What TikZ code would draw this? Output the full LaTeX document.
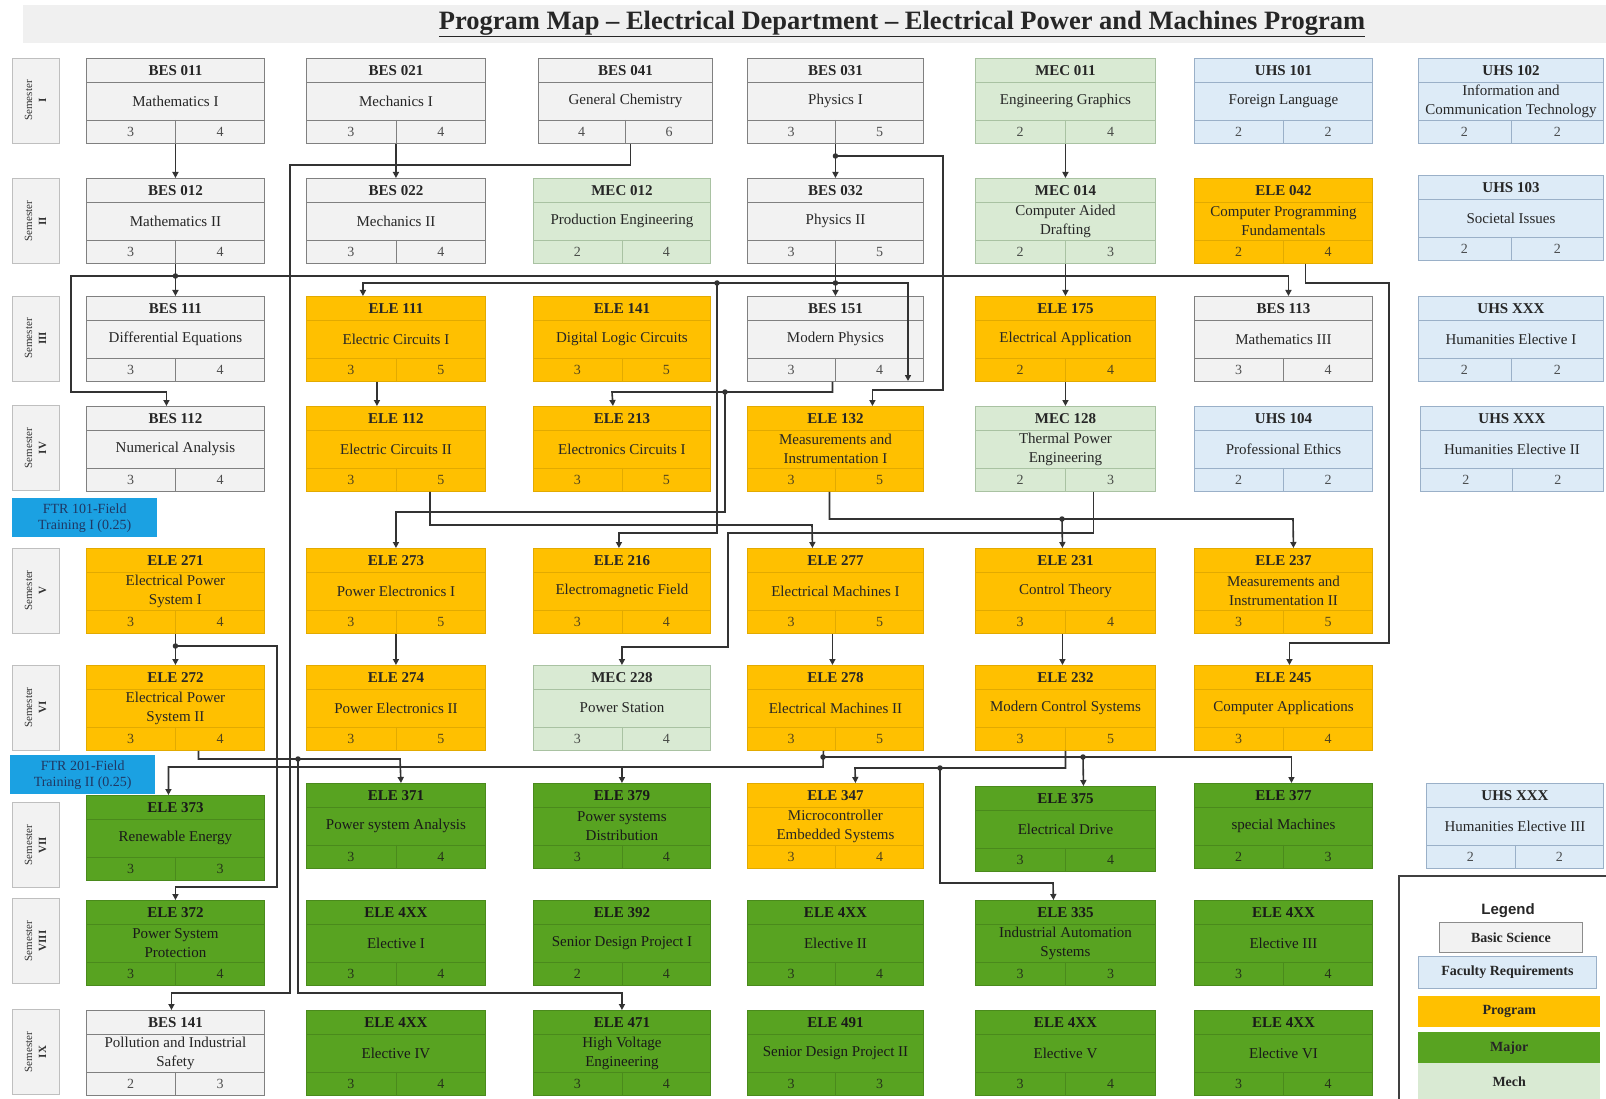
\documentclass[tikz,border=0pt]{standalone}
\usepackage{fontspec}
\setmainfont{Liberation Serif}
\newfontfamily\legendfont{Liberation Sans}
\usetikzlibrary{calc,arrows.meta}

\definecolor{bsfill}{HTML}{F2F2F2}
\definecolor{bsdraw}{HTML}{808080}
\definecolor{frfill}{HTML}{DDEBF7}
\definecolor{frdraw}{HTML}{9AB0C8}
\definecolor{pgfill}{HTML}{FFC000}
\definecolor{pgdraw}{HTML}{E2AA00}
\definecolor{mjfill}{HTML}{58A321}
\definecolor{mjdraw}{HTML}{4A8A1C}
\definecolor{mcfill}{HTML}{D9EAD3}
\definecolor{mcdraw}{HTML}{A9C2A2}
\definecolor{ftrfill}{HTML}{1BA1E2}
\definecolor{ftrink}{HTML}{1F3864}
\definecolor{wire}{HTML}{333333}
\definecolor{band}{HTML}{F0F0F0}

\tikzset{
  box/.style={rectangle, minimum height=85pt, inner sep=0pt, anchor=north west, line width=0.9pt},
  basic/.style={box, fill=bsfill, draw=bsdraw},
  fac/.style={box, fill=frfill, draw=frdraw},
  prog/.style={box, fill=pgfill, draw=pgdraw},
  major/.style={box, fill=mjfill, draw=mjdraw},
  mech/.style={box, fill=mcfill, draw=mcdraw},
  basic grid/.style={draw=bsdraw, line width=0.7pt},
  fac grid/.style={draw=frdraw, line width=0.7pt},
  prog grid/.style={draw=pgdraw, line width=0.7pt},
  major grid/.style={draw=mjdraw, line width=0.7pt},
  mech grid/.style={draw=mcdraw, line width=0.7pt},
  basic ink/.style={text=black!85},
  fac ink/.style={text=black!85},
  prog ink/.style={text=black!85},
  major ink/.style={text=black!90},
  mech ink/.style={text=black!85},
  codetext/.style={font=\fontsize{15}{17}\selectfont\bfseries, inner sep=0pt},
  titletext/.style={font=\fontsize{15}{19}\selectfont, align=center, inner sep=0pt},
  credtext/.style={font=\fontsize{14}{16}\selectfont, inner sep=0pt, opacity=0.8},
  semlabel/.style={rectangle, draw=black!25, fill=bsfill, line width=0.6pt, rotate=90,
    minimum width=85pt, minimum height=47pt, align=center, inner sep=0pt,
    font=\fontsize{11}{14}\selectfont, text=black!80},
  ftrbox/.style={rectangle, fill=ftrfill, anchor=north west, minimum width=145pt, minimum height=39pt,
    inner sep=0pt, align=center, text=ftrink, font=\fontsize{14}{16}\selectfont},
  wireline/.style={draw=wire, line width=1.6pt},
  arr/.style={wireline, -{Triangle[length=6pt,width=6pt]}},
  jdot/.style={circle, fill=wire, inner sep=0pt, minimum size=5.5pt},
  legitem/.style={rectangle, anchor=north west, inner sep=0pt, minimum height=31pt,
    font=\fontsize{14}{16}\selectfont\bfseries, text=black!85},
}

% course box: name, x-left, y-top, width, kind, code, title, credit 1, credit 2
\newcommand\course[9]{%
  \node[#5, minimum width=#4pt] (#1) at (#2,#3) {};
  \draw[#5 grid] ($(#1.north west)+(0,24)$) -- ($(#1.north east)+(0,24)$);
  \draw[#5 grid] ($(#1.south west)+(0,-24)$) -- ($(#1.south east)+(0,-24)$);
  \draw[#5 grid] ($(#1.south)+(0,-24)$) -- (#1.south);
  \node[codetext, #5 ink] (#1-code) at ($(#1.north)+(0,12.5)$) {#6};
  \node[titletext, #5 ink] (#1-title) at ($(#1.north)+(0,43)$) {#7};
  \node[credtext, #5 ink] (#1-cra) at ($(#1.south west)!0.25!(#1.south east)+(0,-12)$) {#8};
  \node[credtext, #5 ink] (#1-crb) at ($(#1.south west)!0.75!(#1.south east)+(0,-12)$) {#9};
}

\begin{document}
\begin{tikzpicture}[x=1pt, y=-1pt]
\useasboundingbox (0,0) rectangle (1606,1099);
\fill[white] (0,0) rectangle (1606,1099);

% heading
\fill[band] (23,5) rectangle (1606,43);
\node[font=\fontsize{26.5}{29}\selectfont\bfseries, text=black!85, inner sep=0pt] (heading) at (902,24)
  {\underline{Program Map -- Electrical Department -- Electrical Power and Machines Program}};

% semester labels
\node[semlabel] (s1) at (35.5,100.5) {Semester\\\textbf{I}};
\node[semlabel] (s2) at (35.5,221) {Semester\\\textbf{II}};
\node[semlabel] (s3) at (35.5,338.5) {Semester\\\textbf{III}};
\node[semlabel] (s4) at (35.5,448) {Semester\\\textbf{IV}};
\node[semlabel] (s5) at (35.5,590.5) {Semester\\\textbf{V}};
\node[semlabel] (s6) at (35.5,707.5) {Semester\\\textbf{VI}};
\node[semlabel] (s7) at (35.5,845) {Semester\\\textbf{VII}};
\node[semlabel] (s8) at (35.5,941) {Semester\\\textbf{VIII}};
\node[semlabel] (s9) at (35.5,1052) {Semester\\\textbf{IX}};

% field training
\node[ftrbox] (ftr101) at (12,498) {FTR 101-Field\\Training I (0.25)};
\node[ftrbox] (ftr201) at (10,755) {FTR 201-Field\\Training II (0.25)};

% semester I
\course{bes011}{86}{58}{178}{basic}{BES 011}{Mathematics I}{3}{4}
\course{bes021}{306}{58}{179}{basic}{BES 021}{Mechanics I}{3}{4}
\course{bes041}{538}{58}{174}{basic}{BES 041}{General Chemistry}{4}{6}
\course{bes031}{747}{58}{176}{basic}{BES 031}{Physics I}{3}{5}
\course{mec011}{975}{58}{180}{mech}{MEC 011}{Engineering Graphics}{2}{4}
\course{uhs101}{1194}{58}{178}{fac}{UHS 101}{Foreign Language}{2}{2}
\course{uhs102}{1418}{58}{185}{fac}{UHS 102}{Information and\\Communication Technology}{2}{2}

% semester II
\course{bes012}{86}{178}{178}{basic}{BES 012}{Mathematics II}{3}{4}
\course{bes022}{306}{178}{179}{basic}{BES 022}{Mechanics II}{3}{4}
\course{mec012}{533}{178}{177}{mech}{MEC 012}{Production Engineering}{2}{4}
\course{bes032}{747}{178}{176}{basic}{BES 032}{Physics II}{3}{5}
\course{mec014}{975}{178}{180}{mech}{MEC 014}{Computer Aided\\Drafting}{2}{3}
\course{ele042}{1194}{178}{178}{prog}{ELE 042}{Computer Programming\\Fundamentals}{2}{4}
\course{uhs103}{1418}{175}{185}{fac}{UHS 103}{Societal Issues}{2}{2}

% semester III
\course{bes111}{86}{296}{178}{basic}{BES 111}{Differential Equations}{3}{4}
\course{ele111}{306}{296}{179}{prog}{ELE 111}{Electric Circuits I}{3}{5}
\course{ele141}{533}{296}{177}{prog}{ELE 141}{Digital Logic Circuits}{3}{5}
\course{bes151}{747}{296}{176}{basic}{BES 151}{Modern Physics}{3}{4}
\course{ele175}{975}{296}{180}{prog}{ELE 175}{Electrical Application}{2}{4}
\course{bes113}{1194}{296}{178}{basic}{BES 113}{Mathematics III}{3}{4}
\course{uhsx1}{1418}{296}{185}{fac}{UHS XXX}{Humanities Elective I}{2}{2}

% semester IV
\course{bes112}{86}{406}{178}{basic}{BES 112}{Numerical Analysis}{3}{4}
\course{ele112}{306}{406}{179}{prog}{ELE 112}{Electric Circuits II}{3}{5}
\course{ele213}{533}{406}{177}{prog}{ELE 213}{Electronics Circuits I}{3}{5}
\course{ele132}{747}{406}{176}{prog}{ELE 132}{Measurements and\\Instrumentation I}{3}{5}
\course{mec128}{975}{406}{180}{mech}{MEC 128}{Thermal Power\\Engineering}{2}{3}
\course{uhs104}{1194}{406}{178}{fac}{UHS 104}{Professional Ethics}{2}{2}
\course{uhsx2}{1420}{406}{183}{fac}{UHS XXX}{Humanities Elective II}{2}{2}

% semester V
\course{ele271}{86}{548}{178}{prog}{ELE 271}{Electrical Power\\System I}{3}{4}
\course{ele273}{306}{548}{179}{prog}{ELE 273}{Power Electronics I}{3}{5}
\course{ele216}{533}{548}{177}{prog}{ELE 216}{Electromagnetic Field}{3}{4}
\course{ele277}{747}{548}{176}{prog}{ELE 277}{Electrical Machines I}{3}{5}
\course{ele231}{975}{548}{180}{prog}{ELE 231}{Control Theory}{3}{4}
\course{ele237}{1194}{548}{178}{prog}{ELE 237}{Measurements and\\Instrumentation II}{3}{5}

% semester VI
\course{ele272}{86}{665}{178}{prog}{ELE 272}{Electrical Power\\System II}{3}{4}
\course{ele274}{306}{665}{179}{prog}{ELE 274}{Power Electronics II}{3}{5}
\course{mec228}{533}{665}{177}{mech}{MEC 228}{Power Station}{3}{4}
\course{ele278}{747}{665}{176}{prog}{ELE 278}{Electrical Machines II}{3}{5}
\course{ele232}{975}{665}{180}{prog}{ELE 232}{Modern Control Systems}{3}{5}
\course{ele245}{1194}{665}{178}{prog}{ELE 245}{Computer Applications}{3}{4}

% semester VII
\course{ele373}{86}{795}{178}{major}{ELE 373}{Renewable Energy}{3}{3}
\course{ele371}{306}{783}{179}{major}{ELE 371}{Power system Analysis}{3}{4}
\course{ele379}{533}{783}{177}{major}{ELE 379}{Power systems\\Distribution}{3}{4}
\course{ele347}{747}{783}{176}{prog}{ELE 347}{Microcontroller\\Embedded Systems}{3}{4}
\course{ele375}{975}{786}{180}{major}{ELE 375}{Electrical Drive}{3}{4}
\course{ele377}{1194}{783}{178}{major}{ELE 377}{special Machines}{2}{3}
\course{uhsx3}{1426}{783}{177}{fac}{UHS XXX}{Humanities Elective III}{2}{2}

% semester VIII
\course{ele372}{86}{900}{178}{major}{ELE 372}{Power System\\Protection}{3}{4}
\course{ele4a}{306}{900}{179}{major}{ELE 4XX}{Elective I}{3}{4}
\course{ele392}{533}{900}{177}{major}{ELE 392}{Senior Design Project I}{2}{4}
\course{ele4b}{747}{900}{176}{major}{ELE 4XX}{Elective II}{3}{4}
\course{ele335}{975}{900}{180}{major}{ELE 335}{Industrial Automation\\Systems}{3}{3}
\course{ele4c}{1194}{900}{178}{major}{ELE 4XX}{Elective III}{3}{4}

% semester IX
\course{bes141}{86}{1010}{178}{basic}{BES 141}{Pollution and Industrial\\Safety}{2}{3}
\course{ele4d}{306}{1010}{179}{major}{ELE 4XX}{Elective IV}{3}{4}
\course{ele471}{533}{1010}{177}{major}{ELE 471}{High Voltage\\Engineering}{3}{4}
\course{ele491}{747}{1010}{176}{major}{ELE 491}{Senior Design Project II}{3}{3}
\course{ele4e}{975}{1010}{180}{major}{ELE 4XX}{Elective V}{3}{4}
\course{ele4f}{1194}{1010}{178}{major}{ELE 4XX}{Elective VI}{3}{4}

% ---------- prerequisite links ----------
\draw[arr] (bes011.south) -- (bes012.north);
\draw[arr] (bes021.south) -- (bes022.north);
\draw[arr] (mec011.south) -- (mec014.north);
\draw[arr] (mec014.south) -- (ele175.north);
\draw[arr] (ele175.south) -- (mec128.north);

% physics I
\draw[arr] (bes031.south) -- (bes032.north);
\draw[arr] (bes031.south |- 0,156) -| (943,390) -| ([xshift=37pt]ele132.north);
\node[jdot] (jp1) at (bes031.south |- 0,156) {};

% chemistry
\draw[arr] ([xshift=5pt]bes041.south) |- (290,165) -- (290,993) -| ([xshift=-4pt]bes141.north);

% mathematics II
\draw[arr] (bes012.south) -- (bes111.north);
\draw[arr] (bes012.south |- 0,276) -- (71,276) -- (71,392) -| ([xshift=-9pt]bes112.north);
\draw[arr] (bes012.south |- 0,276) -| ([xshift=5pt]bes113.north);
\node[jdot] (jm2) at (bes012.south |- 0,276) {};

% physics II
\draw[arr] (bes032.south) -- (bes151.north);
\draw[arr] (bes032.south |- 0,283) -| ([xshift=-33pt]ele111.north);
\draw[arr] (bes032.south |- 0,283) -| (908,381);
\draw[arr] (717,283) -- (717,533) -| ([xshift=-3pt]ele216.north);
\node[jdot] (jp2) at (bes032.south |- 0,283) {};
\node[jdot] (jp3) at (717,283) {};

% programming
\draw[arr] ([xshift=22pt]ele042.south) |- (1389,283) |- (1289,643) -| ([xshift=6pt]ele245.north);

% circuits and modern physics
\draw[arr] ([xshift=-19pt]ele111.south) -- ([xshift=-19pt]ele112.north);
\draw[arr] ([xshift=-3pt]bes151.south) |- (612,392) -- ([xshift=-9pt]ele213.north);
\draw[arr] (725,392) |- (ele273.north |- 0,512) -- (ele273.north);
\node[jdot] (jmp) at (725,392) {};
\draw[arr] ([xshift=34pt]ele112.south) |- (812,525) -- ([xshift=-23pt]ele277.north);

% measurements I
\draw[arr] ([xshift=-6pt]ele132.south) |- (1293,519) -- ([xshift=10pt]ele237.north);
\draw[arr] (1062,519) -- ([xshift=-3pt]ele231.north);
\node[jdot] (jmi) at (1062,519) {};

% thermal power
\draw[arr] ([xshift=28pt]mec128.south) |- (728,533) |- (mec228.north |- 0,647) -- (mec228.north);

% semester V to VI
\draw[arr] (ele271.south) -- (ele272.north);
\draw[arr] (ele271.south |- 0,646) -| (277,887) -| (ele372.north);
\node[jdot] (jps) at (ele271.south |- 0,646) {};
\draw[arr] (ele273.south) -- (ele274.north);
\draw[arr] ([xshift=-3pt]ele277.south) -- ([xshift=-3pt]ele278.north);
\draw[arr] ([xshift=-3pt]ele231.south) -- ([xshift=-3pt]ele232.north);

% semester VI to later
\draw[arr] ([xshift=23pt]ele272.south) |- (400,759) -- ([xshift=5pt]ele371.north);
\draw[arr] (298,759) |- (ele471.north |- 0,993) -- (ele471.north);
\node[jdot] (jhv) at (298,759) {};
\draw[arr] ([xshift=-12pt]ele278.south) -- (823,767) -| ([xshift=-7pt]ele373.north);
\draw[arr] (ele379.north |- 0,767) -- (ele379.north);
\draw[arr] (823,757) -| ([xshift=8pt]ele377.north);
\draw[arr] (1083,757) -- ([xshift=18pt]ele375.north);
\node[jdot] (jem) at (823,757) {};
\node[jdot] (jed) at (1083,757) {};
\draw[arr] (ele232.south) |- (855,768) -- ([xshift=20pt]ele347.north);
\draw[arr] (940,768) |- (1053,883) -- ([xshift=-12pt]ele335.north);
\node[jdot] (jcs) at (940,768) {};

% legend
\draw[draw=black!75, line width=1.6pt] (1399,1110) -- (1399,876) -- (1615,876);
\node[font=\legendfont\fontsize{15}{17}\selectfont\bfseries, text=black!85, inner sep=0pt] (legtitle) at (1508,911) {Legend};
\node[legitem, fill=bsfill, draw=black!45, line width=0.8pt, minimum width=143pt, minimum height=30pt] (lgbs) at (1439,922) {Basic Science};
\node[legitem, fill=frfill, draw=frdraw, line width=0.8pt, minimum width=178pt, minimum height=32pt] (lgfr) at (1418,956) {Faculty Requirements};
\node[legitem, fill=pgfill, minimum width=182pt] (lgpg) at (1418,996) {Program};
\node[legitem, fill=mjfill, minimum width=182pt] (lgmj) at (1418,1032) {Major};
\node[legitem, fill=mcfill, minimum width=182pt, minimum height=36pt] (lgmc) at (1418,1063) {Mech};
\end{tikzpicture}
\end{document}
